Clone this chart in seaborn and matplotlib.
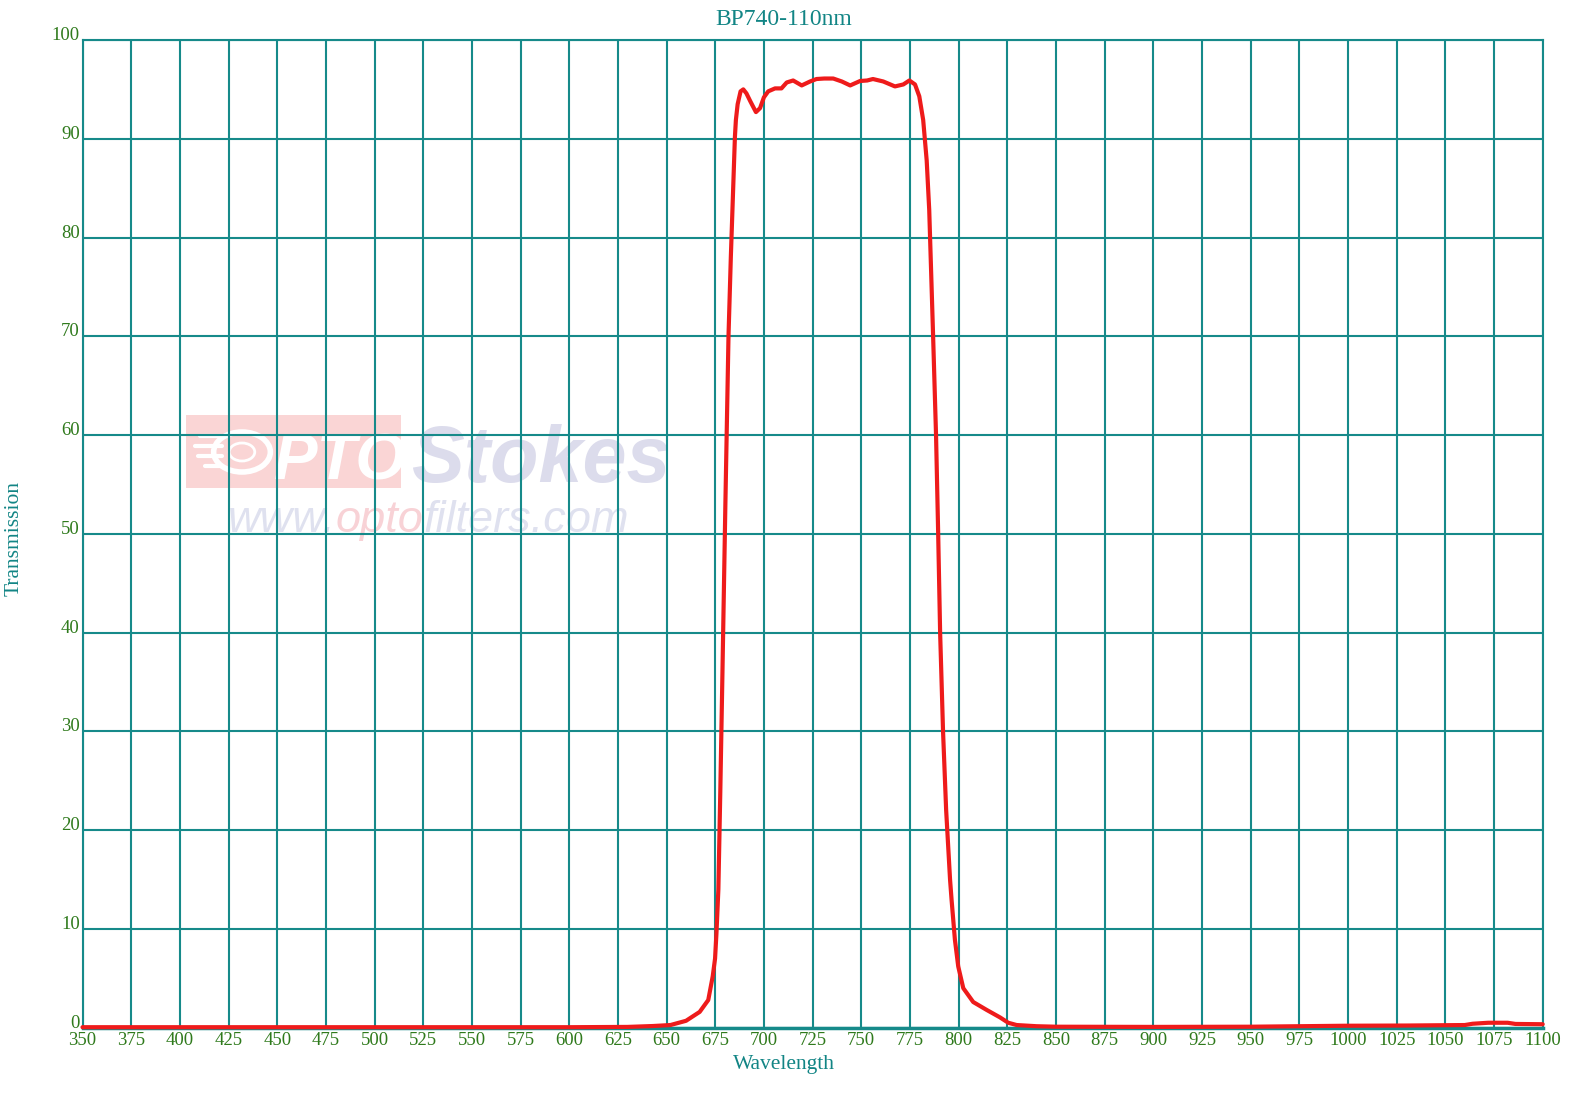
import matplotlib
matplotlib.use("Agg")
import matplotlib.pyplot as plt
import seaborn as sns
import pandas as pd
from matplotlib.patches import Rectangle, Circle
from matplotlib.lines import Line2D

# ---- data ----
wavelength = [350, 400, 450, 500, 550, 600, 630, 643, 652, 660, 667, 671.4, 673.7,
              674.9, 675.6, 676.6, 677.6, 678.7, 680.2, 681.8, 683, 684, 685.1,
              685.6, 686.5, 688, 689.4, 691, 693, 695.9, 698, 700, 702.2, 705.7,
              709, 711.7, 715, 719.4, 723.7, 727, 731, 735.6, 740, 744.3, 749.4,
              753, 756, 761.3, 767.3, 771.6, 774.7, 777.6, 779.8, 781.8, 783.6,
              784.9, 786.9, 788.4, 789.5, 790.5, 792, 793.6, 795.6, 796.4, 798.1,
              799.8, 802.4, 807.5, 814.4, 821.2, 825.5, 829.8, 840, 850, 900, 950,
              975, 1000, 1030, 1060, 1064, 1072, 1082, 1086, 1100]
transmission = [0.05, 0.05, 0.05, 0.05, 0.05, 0.05, 0.08, 0.17, 0.27, 0.7, 1.6, 2.8, 5.2,
                7.0, 9.5, 14, 24, 36, 53, 70, 78, 83.8, 90.2,
                91.9, 93.5, 94.8, 95.0, 94.6, 93.8, 92.7, 93.1, 94.2, 94.8, 95.1,
                95.1, 95.7, 95.9, 95.4, 95.8, 96.05, 96.1, 96.1, 95.8, 95.4, 95.85,
                95.9, 96.05, 95.8, 95.3, 95.5, 95.9, 95.5, 94.3, 91.9, 87.8,
                82.8, 70, 60, 50, 40, 30, 22, 15, 12.9, 8.9,
                6.2, 4.0, 2.6, 1.8, 1.05, 0.5, 0.27, 0.15, 0.1, 0.08, 0.1,
                0.15, 0.2, 0.22, 0.27, 0.4, 0.5, 0.5, 0.38, 0.35]
x_ticks = list(range(350, 1101, 25))
y_ticks = list(range(0, 101, 10))
title = "BP740-110nm"

df = pd.DataFrame({"Wavelength": wavelength, "Transmission": transmission})

sns.set_theme(style="white")
plt.rcParams["font.family"] = ["Liberation Serif", "DejaVu Serif"]

TEAL = "#128585"
GRID = "#168a8a"
TICK = "#2f7a1c"
RED = "#ee1b1b"

fig = plt.figure(figsize=(15.79, 11.14), dpi=100)
W, H = 1579, 1114
ax = fig.add_axes([82.5 / W, 1 - 1027.7 / H, (1542.7 - 82.5) / W, (1027.7 - 40) / H])
ax.set_zorder(1)
ax.patch.set_alpha(0)
fig.patch.set_facecolor("white")

# ---- watermark (drawn below the axes so the grid sits on top) ----
FT = fig.transFigure
fig.patches.append(Rectangle((186 / W, 1 - 488 / H), 215 / W, 73 / H, transform=FT,
                             facecolor="#fad5d5", edgecolor="none", zorder=0))
fig.patches.append(Circle((242 / W, 1 - 452 / H), 20 / H, transform=FT,
                          facecolor="none", edgecolor="white", linewidth=4, zorder=0.1))
fig.patches.append(Circle((242 / W, 1 - 452 / H), 9 / H, transform=FT,
                          facecolor="none", edgecolor="white", linewidth=2, zorder=0.1))
for yy, x0 in [(436, 200), (446, 195), (456, 198), (466, 205)]:
    fig.lines.append(Line2D([x0 / W, 222 / W], [1 - yy / H, 1 - yy / H], transform=FT,
                            color="white", linewidth=3, zorder=0.1))
fig.text(274 / W, 1 - 480 / H, "PTO", color="white", fontsize=47,
         family="Liberation Sans", weight="bold", style="italic", zorder=0.2)
fig.text(411 / W, 1 - 482 / H, "Stokes", color="#dcdcec", fontsize=57,
         family="Liberation Sans", weight="bold", style="italic", zorder=0.2)
t3 = fig.text(228 / W, 1 - 532 / H, "www.", color="#dfe1ef", fontsize=32.5,
              family="Liberation Sans", style="italic", zorder=0.2)
t4 = fig.text(0, 1 - 532 / H, "opto", color="#f8d2d6", fontsize=32.5,
              family="Liberation Sans", style="italic", zorder=0.2)
t5 = fig.text(0, 1 - 532 / H, "filters.com", color="#dfe1ef", fontsize=32.5,
              family="Liberation Sans", style="italic", zorder=0.2)

# ---- curve ----
sns.lineplot(data=df, x="Wavelength", y="Transmission", ax=ax, color=RED,
             linewidth=3.0, sort=False, estimator=None, clip_on=False, zorder=5)

ax.set_xlim(350, 1100)
ax.set_ylim(0, 100)
ax.set_xticks(x_ticks)
ax.set_yticks(y_ticks)
ax.set_xticklabels([str(v) for v in x_ticks])
ax.set_yticklabels([str(v) for v in y_ticks])
ax.grid(True, color=GRID, linewidth=1.5)
ax.set_axisbelow(True)
for s in ax.spines.values():
    s.set_visible(True)
    s.set_color(GRID)
    s.set_linewidth(1.5)
ax.spines["bottom"].set_linewidth(2.5)
ax.tick_params(axis="both", length=0, labelsize=13.5, labelcolor=TICK)
ax.tick_params(axis="x", pad=3)
ax.tick_params(axis="y", pad=2)
for lab in ax.get_yticklabels():
    lab.set_verticalalignment("baseline")
ax.set_xlabel("")
ax.set_ylabel("")

fig.text(0.4965, 1 - 19.5 / H, title, color=TEAL, fontsize=17, ha="center", va="center")
fig.text(0.4965, 1 - 1064 / H, "Wavelength", color=TEAL, fontsize=15.5, ha="center", va="center")
fig.text(14.5 / W, 1 - 538 / H, "Transmission", color=TEAL, fontsize=15.5, ha="center",
         va="center", rotation=90)

# place watermark url pieces one after another
fig.canvas.draw()
r = fig.canvas.get_renderer()
inv = fig.transFigure.inverted()
t4.set_x(inv.transform((t3.get_window_extent(r).x1, 0))[0])
fig.canvas.draw()
t5.set_x(inv.transform((t4.get_window_extent(r).x1, 0))[0])

fig.savefig("out.png", dpi=100, facecolor="white")
